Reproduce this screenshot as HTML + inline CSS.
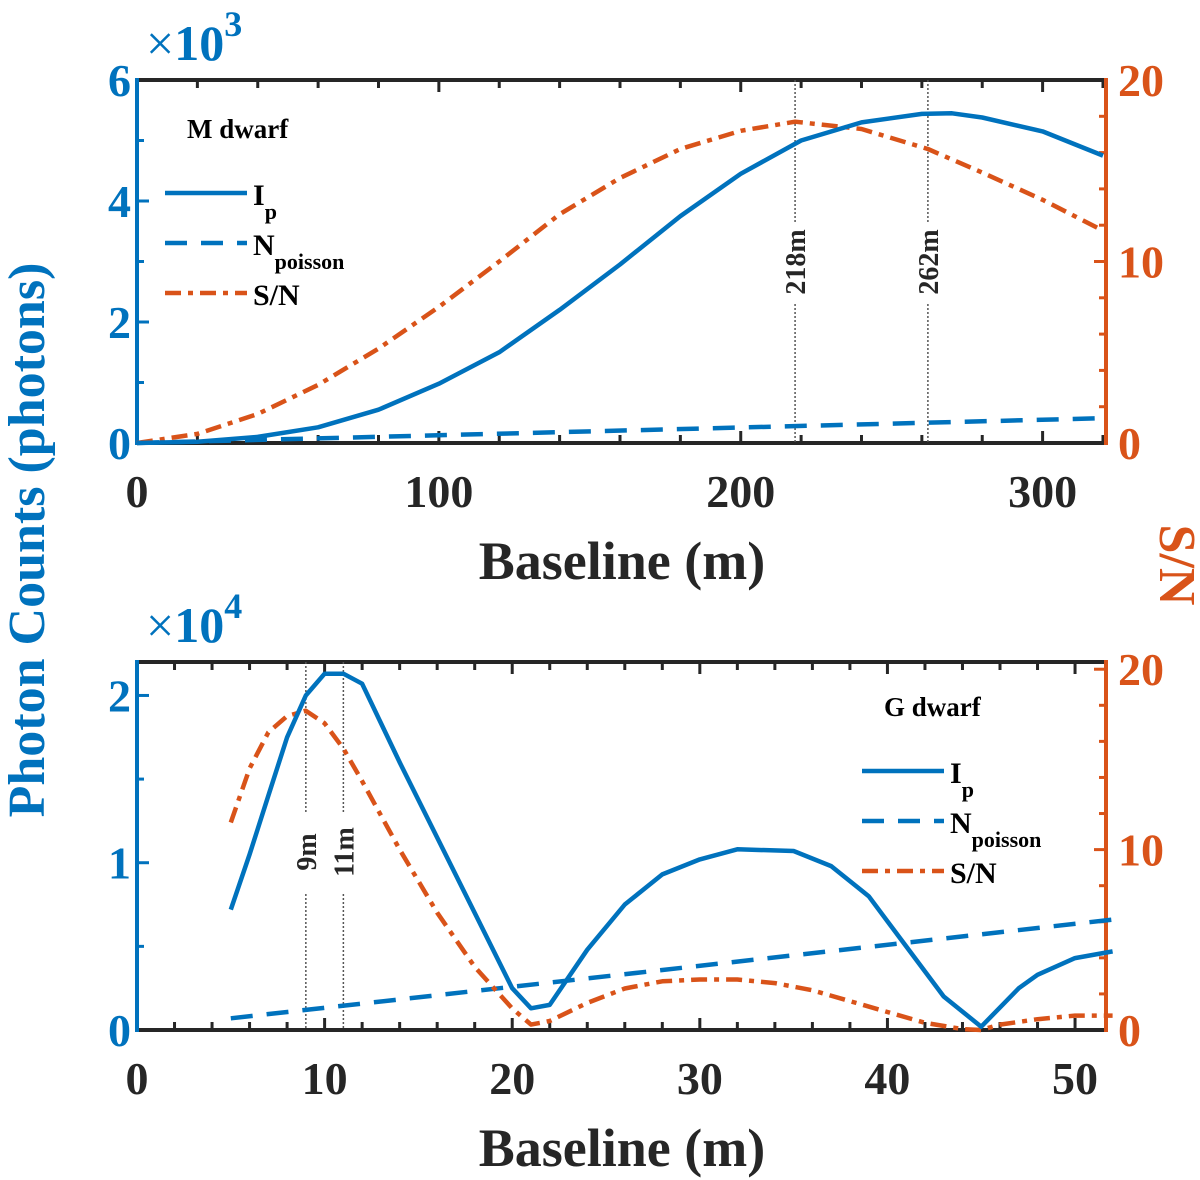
<!DOCTYPE html>
<html><head><meta charset="utf-8"><style>
body{margin:0;background:#fff}
svg{display:block;font-family:"Liberation Serif",serif;font-weight:bold}
</style></head><body>
<svg id="fig" width="1200" height="1180" viewBox="0 0 1200 1180"></svg>
<script>
// ---- Top panel (M dwarf) data ----
const mX = [0,20,40,60,80,100,120,140,160,180,200,220,240,260,270,280,300,320];
const mIp = [0,0.02,0.1,0.26,0.55,0.98,1.5,2.2,2.95,3.75,4.45,5.0,5.3,5.44,5.45,5.38,5.15,4.75];
const mNpX = [0,320];
const mNp = [0,0.41];
const mSNX = [0,20,40,60,80,100,120,140,160,180,200,218,240,262,280,300,320];
const mSN = [0,0.5,1.6,3.2,5.2,7.5,10.0,12.6,14.6,16.2,17.2,17.7,17.3,16.2,14.9,13.4,11.7];
const mMarks = [218,262];
const mXTicks = [0,100,200,300];
const mYTicks = [0,2,4,6];
const mRTicks = [0,10,20];
// ---- Bottom panel (G dwarf) data ----
const gX = [5,6,7,8,9,10,11,12,14,16,18,20,21,22,24,26,28,30,32,35,37,39,41,43,45,47,48,50,52];
const gIp = [0.72,1.05,1.4,1.75,2.0,2.13,2.13,2.07,1.6,1.15,0.7,0.25,0.13,0.15,0.48,0.75,0.93,1.02,1.08,1.07,0.98,0.8,0.5,0.2,0.02,0.25,0.33,0.43,0.47];
const gNpX = [5,52];
const gNp = [0.07,0.66];
const gSNX = [5,6,7,8,9,10,11,12,14,16,18,20,21,22,24,26,28,30,32,34,36,38,40,42,44,45,46,48,50,52];
const gSN = [11.5,14.5,16.5,17.4,17.7,17.0,15.6,13.8,10,6.5,3.5,1.2,0.3,0.5,1.5,2.3,2.7,2.8,2.8,2.6,2.2,1.6,1.0,0.4,0.05,0,0.3,0.6,0.8,0.8];
const gMarks = [9,11];
const gXTicks = [0,10,20,30,40,50];
const gYTicks = [0,1,2];
const gRTicks = [0,10,20];

const NS="http://www.w3.org/2000/svg";
const svg=document.getElementById('fig');
const BLUE="#0072BD", ORANGE="#D95319", DARK="#262626";
function mk(tag,attrs,parent){const e=document.createElementNS(NS,tag);for(const k in attrs)e.setAttribute(k,attrs[k]);(parent||svg).appendChild(e);return e;}

function panel(cfg){
  const g=mk('g',{});
  
  
  const L=137,R=1106,T=cfg.top,B=cfg.bottom;
  const sx=v=>L+(v-cfg.xmin)/(cfg.xmax-cfg.xmin)*(R-L);
  const sy=v=>B-(v/cfg.ymax)*(B-T);
  const sr=v=>B-(v/cfg.rmax)*(B-T);
  for(let v=0;v<=cfg.xmax+1e-9;v+=cfg.xminor){
    const x=sx(v),major=Math.abs(v/cfg.xmajor-Math.round(v/cfg.xmajor))<1e-6,len=major?12:8;
    mk('line',{x1:x,x2:x,y1:B,y2:B-len,stroke:DARK,'stroke-width':3},g);
    mk('line',{x1:x,x2:x,y1:T,y2:T+len,stroke:DARK,'stroke-width':3},g);
  }
  cfg.yminorVals.forEach(v=>{const y=sy(v);mk('line',{x1:L,x2:L+7,y1:y,y2:y,stroke:BLUE,'stroke-width':3},g);});
  cfg.ylab.forEach(v=>{const y=sy(v);mk('line',{x1:L,x2:L+12,y1:y,y2:y,stroke:BLUE,'stroke-width':3},g);});
  for(let v=0;v<=cfg.rmax;v+=2){const y=sr(v),major=v%10===0;mk('line',{x1:R,x2:R-(major?12:7),y1:y,y2:y,stroke:ORANGE,'stroke-width':3},g);}
  mk('line',{x1:L,x2:R,y1:B,y2:B,stroke:DARK,'stroke-width':4},g);
  mk('line',{x1:L,x2:R,y1:T,y2:T,stroke:DARK,'stroke-width':4},g);
  mk('line',{x1:L,x2:L,y1:T-2,y2:B+2,stroke:BLUE,'stroke-width':4},g);
  mk('line',{x1:R,x2:R,y1:T-2,y2:B+2,stroke:ORANGE,'stroke-width':4},g);
  cfg.xlab.forEach(v=>{const t=mk('text',{x:sx(v),y:B+64,'text-anchor':'middle','font-size':46,fill:DARK},g);t.textContent=v;
    });
  cfg.ylab.forEach(v=>{const t=mk('text',{x:L-6,y:sy(v)+16,'text-anchor':'end','font-size':46,fill:BLUE},g);t.textContent=v;
    });
  cfg.rlab.forEach(v=>{const t=mk('text',{x:R+12,y:sr(v)+16,'font-size':46,fill:ORANGE},g);t.textContent=v;
    });
  const ex=mk('text',{x:146,y:T-20,'font-size':50,fill:BLUE,'font-weight':'normal'},g);
  ex.innerHTML='×<tspan font-weight="bold">10</tspan><tspan dy="-24" font-size="36" font-weight="bold">'+cfg.exp+'</tspan>';
  
  const xl=mk('text',{x:622,y:B+136,'text-anchor':'middle','font-size':54,fill:DARK},g);xl.textContent='Baseline (m)';
  
  cfg.marks.forEach(m=>{
    const x=sx(m);
    mk('line',{x1:x,x2:x,y1:T,y2:B,stroke:'#555','stroke-width':1.5,'stroke-dasharray':'2 2'},g);
    const ty=cfg.markY;
    mk('rect',{x:x-14,y:ty-40,width:28,height:80,fill:'#fff'},g);
    const t=mk('text',{x:x+10,y:ty,'text-anchor':'middle','font-size':28,fill:DARK,transform:`rotate(-90 ${x+10} ${ty})`},g);
    t.textContent=m+'m';
    
  });
  const line=(xs,ys,scale,color,dash,name)=>{
    const d=xs.map((v,i)=>(i?'L':'M')+sx(v).toFixed(1)+','+scale(ys[i]).toFixed(1)).join(' ');
    const p=mk('path',{d:d,fill:'none',stroke:color,'stroke-width':4.5,'stroke-dasharray':dash,'stroke-linejoin':'round'},g);
    
  };
  line(cfg.npX,cfg.np,sy,BLUE,'22 14',cfg.name+'-npoisson-line');
  line(cfg.snX,cfg.sn,sr,ORANGE,'16 7 5 7',cfg.name+'-sn-line');
  line(cfg.x,cfg.ip,sy,BLUE,'',cfg.name+'-ip-line');
  const lx=cfg.legX, ly=cfg.legY;
  const tt=mk('text',{x:lx+22,y:ly,'font-size':27,fill:'#000'},g);tt.textContent=cfg.title;
  
  const ents=[[BLUE,'','I','p'],[BLUE,'22 14','N','poisson'],[ORANGE,'16 7 5 7','S/N','']];
  ents.forEach((e,i)=>{
    const y=ly+55+i*50;
    mk('line',{x1:lx,x2:lx+82,y1:y,y2:y,stroke:e[0],'stroke-width':4.5,'stroke-dasharray':e[1]},g);
    const t=mk('text',{x:lx+88,y:y+12,'font-size':30,fill:'#000'},g);
    t.innerHTML=e[2]+(e[3]?'<tspan dy="14" font-size="22">'+e[3]+'</tspan>':'');
    
  });
}
panel({name:'m-dwarf-panel',top:80,bottom:443,xmin:0,xmax:321,ymax:6,rmax:20,xminor:20,xmajor:100,
  xlab:mXTicks,ylab:mYTicks,rlab:mRTicks,yminorVals:[1,3,5],exp:3,marks:mMarks,markY:262,
  x:mX,ip:mIp,npX:mNpX,np:mNp,snX:mSNX,sn:mSN,legX:165,legY:138,title:'M dwarf'});
panel({name:'g-dwarf-panel',top:662,bottom:1030,xmin:0,xmax:51.65,ymax:2.2,rmax:20.4,xminor:2,xmajor:10,
  xlab:gXTicks,ylab:gYTicks,rlab:gRTicks,yminorVals:[0.5,1.5],exp:4,marks:gMarks,markY:852,
  x:gX,ip:gIp,npX:gNpX,np:gNp,snX:gSNX,sn:gSN,legX:862,legY:716,title:'G dwarf'});
const yl=mk('text',{x:0,y:0,'text-anchor':'middle','font-size':52,fill:BLUE,transform:'translate(44 540) rotate(-90)'});
yl.textContent='Photon Counts (photons)';


const rl=mk('text',{x:0,y:0,'text-anchor':'middle','font-size':52,fill:ORANGE,transform:'translate(1160 565) rotate(90)'});
rl.textContent='S/N';


</script>
</body></html>
